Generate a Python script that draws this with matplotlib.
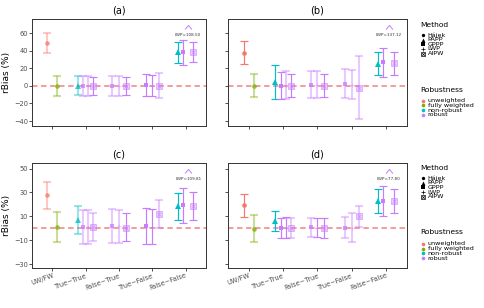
import numpy as np
import matplotlib
matplotlib.use("Agg")
import matplotlib.pyplot as plt
from matplotlib.lines import Line2D
from matplotlib.path import Path
import matplotlib.transforms as mtransforms

# categories on the x axis
categories = ["UW/FW", "True~True", "False~True", "True~False", "False~False"]

# one entry per estimate (same layout in every panel)
cat_idx = [0, 0, 1, 1, 1, 1, 2, 2, 2, 3, 3, 3, 4, 4, 4, 4]
methods = ["Hajek", "Hajek", "PAPP", "GPPP", "LWP", "AIPW",
           "GPPP", "LWP", "AIPW", "GPPP", "LWP", "AIPW",
           "PAPP", "GPPP", "LWP", "AIPW"]
robust = ["unweighted", "fully weighted", "non-robust", "robust", "robust", "robust",
          "robust", "robust", "robust", "robust", "robust", "robust",
          "non-robust", "robust", "robust", "robust"]

# panel (a)
est_a = [49.0, 0.0, 0.0, 0.0, 0.0, 0.0, 0.0, 0.0, 0.0, 0.8, 0.3, 0.0, 38.6, 38.6, 108.50, 38.6]
lo_a = [37.9, -12.0, -10.9, -12.0, -11.6, -10.9, -12.0, -11.6, -10.9, -12.0, -12.0, -13.5, 26.2, 23.6, np.nan, 26.6]
hi_a = [60.4, 11.6, 10.9, 11.6, 11.6, 10.5, 11.6, 11.6, 10.5, 13.1, 12.4, 14.6, 49.9, 52.5, np.nan, 49.9]
light_a = [1, 1, 1, 1, 1, 0, 1, 1, 0, 0, 0, 1, 0, 0, 0, 0]

# panel (b)
est_b = [37.7, 0.0, 4.2, 0.4, 0.4, 0.0, 1.1, 1.1, 0.0, 2.3, 1.0, -1.9, 25.3, 26.8, 137.12, 26.0]
lo_b = [24.5, -13.2, -15.1, -15.1, -15.1, -12.5, -14.0, -14.0, -12.5, -13.6, -15.1, -37.4, 12.1, 9.8, np.nan, 12.1]
hi_b = [50.6, 14.0, 23.4, 15.8, 16.6, 13.2, 16.6, 16.6, 13.2, 18.9, 17.7, 33.6, 38.1, 42.6, np.nan, 38.9]
light_b = [0, 1, 0, 0, 1, 0, 1, 1, 0, 1, 1, 1, 0, 0, 0, 0]

# panel (c)
est_c = [27.9, 0.8, 6.7, 1.1, 1.0, 1.1, 1.9, 1.5, 0.6, 2.2, 1.3, 12.0, 18.4, 19.8, 109.81, 18.9]
lo_c = [16.2, -11.7, -5.0, -13.4, -13.6, -10.9, -12.3, -12.3, -10.6, -12.8, -13.6, 0.0, 7.0, 4.7, np.nan, 7.2]
hi_c = [38.7, 13.4, 18.9, 15.3, 15.3, 13.1, 16.2, 15.3, 12.8, 17.3, 16.2, 24.0, 29.5, 33.7, np.nan, 30.1]
light_c = [1, 1, 1, 1, 1, 1, 1, 1, 0, 0, 0, 1, 0, 0, 0, 0]

# panel (d)
est_d = [19.5, -0.3, 6.4, 0.6, 0.5, 0.3, 0.8, 0.6, 0.3, 0.6, 0.5, 10.3, 22.8, 23.1, 77.80, 22.8]
lo_d = [9.7, -11.4, -1.9, -7.8, -8.4, -8.4, -7.5, -7.5, -8.4, -8.4, -11.7, 0.8, 12.5, 10.6, np.nan, 12.8]
hi_d = [29.0, 11.4, 14.8, 8.9, 9.5, 8.6, 8.6, 8.6, 8.6, 9.7, 12.8, 18.9, 32.9, 35.7, np.nan, 32.6]
light_d = [0, 1, 0, 0, 0, 1, 1, 0, 0, 1, 1, 1, 0, 0, 0, 0]

panel_titles = ["(a)", "(b)", "(c)", "(d)"]
method_names = ["Hajek", "PAPP", "GPPP", "LWP", "AIPW"]
method_labels = ["Hájek", "PAPP", "GPPP", "LWP", "AIPW"]
robust_names = ["unweighted", "fully weighted", "non-robust", "robust"]

colors = {"unweighted": "#F8766D", "fully weighted": "#7CAE00",
          "non-robust": "#00BFC4", "robust": "#C77CFF"}
markers = {"Hajek": "o", "PAPP": "^", "GPPP": "s", "LWP": "+", "AIPW": "s"}

# caret drawn as an open chevron marker
caret = Path([(-1, -0.6), (0, 0.6), (1, -0.6)], [Path.MOVETO, Path.LINETO, Path.LINETO])

W, H = 484, 308
fig = plt.figure(figsize=(W / 100, H / 100), dpi=100)


def px_axes(l, t, r, b):
    return fig.add_axes([l / W, 1 - b / H, (r - l) / W, (b - t) / H])


def dodge_positions():
    xs = []
    for i, c in enumerate(cat_idx):
        group = [j for j, cc in enumerate(cat_idx) if cc == c]
        n = len(group)
        k = group.index(i)
        xs.append(c + 1 + (k - (n - 1) / 2) * 0.6 / n)
    return xs


xpos = dodge_positions()

panels = [
    (est_a, lo_a, hi_a, light_a, (32.3, 19, 205.7, 126)),
    (est_b, lo_b, hi_b, light_b, (228.3, 19, 406.6, 126)),
    (est_c, lo_c, hi_c, light_c, (32.3, 163.3, 205.7, 268)),
    (est_d, lo_d, hi_d, light_d, (228.3, 163.3, 406.6, 268)),
]
ylims = [(-45.6, 76), (-45.6, 76), (-33.3, 54.4), (-33.3, 54.4)]
yticks = [np.arange(-40, 61, 20), np.arange(-40, 61, 20),
          np.arange(-30, 51, 20), np.arange(-30, 51, 20)]

for p, (est, lo, hi, light, box) in enumerate(panels):
    ax = px_axes(*box)
    ylo, yhi = ylims[p]
    ax.axhline(0, color="#EE3B3B", lw=1.3, ls=(0, (3, 2)), alpha=0.55, zorder=1)
    for i in range(len(est)):
        col = colors[robust[i]]
        m = methods[i]
        a = 0.4 if light[i] else 1.0
        lw = 1.5 if light[i] else 0.85
        if est[i] > yhi:
            # off the scale: mark with a caret and a label
            trans = mtransforms.blended_transform_factory(ax.transData, ax.transAxes)
            ax.plot(xpos[i], 0.925, marker=caret, ms=5, mfc="none", mec=col,
                    mew=0.7, transform=trans, clip_on=False)
            ax.text(xpos[i], 0.85, "%s=%.2f" % (m, est[i]), transform=trans,
                    color="#333333", fontsize=3.0, ha="center", va="center")
            continue
        ax.errorbar(xpos[i], est[i], yerr=[[est[i] - lo[i]], [hi[i] - est[i]]],
                    fmt="none", ecolor=col, elinewidth=lw, capsize=2.6,
                    capthick=lw, alpha=a, zorder=2)
        if m == "AIPW":
            ax.plot(xpos[i], est[i], marker="s", ms=3.8, mfc=col, mec="none",
                    alpha=0.35, zorder=3)
            ax.plot(xpos[i], est[i], marker="s", ms=3.8, mfc="none", mec=col,
                    mew=0.6, alpha=0.6, zorder=3)
            ax.plot(xpos[i], est[i], marker="x", ms=2.6, mec=col, mew=0.5,
                    alpha=0.6, zorder=3)
        elif m == "LWP":
            ax.plot(xpos[i], est[i], marker="+", ms=3.0, mec=col, mew=0.6,
                    alpha=a, zorder=3)
        else:
            ms = 3.3 if m != "PAPP" else 3.7
            ax.plot(xpos[i], est[i], marker=markers[m], ms=ms, mfc=col, mec=col,
                    mew=0, alpha=max(a, 0.75), zorder=3)
    ax.set_xlim(0.4, 5.6)
    ax.set_ylim(ylo, yhi)
    ax.set_yticks(yticks[p])
    ax.set_xticks(range(1, 6))
    ax.tick_params(axis="both", colors="#333333", labelcolor="#4D4D4D",
                   labelsize=4.8, length=2, width=0.6, pad=1.2)
    for s in ax.spines.values():
        s.set_color("#333333")
        s.set_linewidth(0.7)
    if p in (2, 3):
        ax.set_xticklabels(categories, rotation=20, ha="right",
                           rotation_mode="anchor")
    else:
        ax.set_xticklabels([])
    if p in (1, 3):
        ax.set_yticklabels([])
    else:
        ax.set_ylabel("rBias (%)", fontsize=6.5, labelpad=2)
    ax.set_title(panel_titles[p], fontsize=7, pad=4)


def draw_legend(dy):
    def fx(x):
        return x / W

    def fy(y):
        return 1 - (y + dy) / H

    fig.text(fx(420.5), fy(25), "Method", fontsize=5.4, va="center", ha="left")
    ys = [35, 39.6, 44.3, 49, 53.7]
    for name, lab, y in zip(method_names, method_labels, ys):
        if name == "AIPW":
            fig.add_artist(Line2D([fx(422.5)], [fy(y)], marker="s", ms=2.6, mfc="none",
                                  mec="black", mew=0.5, transform=fig.transFigure))
            fig.add_artist(Line2D([fx(422.5)], [fy(y)], marker="x", ms=1.9,
                                  mec="black", mew=0.5, transform=fig.transFigure))
        elif name == "LWP":
            fig.add_artist(Line2D([fx(422.5)], [fy(y)], marker="+", ms=3.0,
                                  mec="black", mew=0.5, transform=fig.transFigure))
        else:
            ms = 2.4 if name != "PAPP" else 2.8
            fig.add_artist(Line2D([fx(422.5)], [fy(y)], marker=markers[name], ms=ms,
                                  mfc="black", mec="black", mew=0,
                                  transform=fig.transFigure))
        fig.text(fx(427.5), fy(y), lab, fontsize=4.6, va="center", ha="left")

    fig.text(fx(420.5), fy(89.5), "Robustness", fontsize=5.4, va="center", ha="left")
    ys = [100.7, 105.5, 110.3, 115]
    for name, y in zip(robust_names, ys):
        fig.add_artist(Line2D([fx(422.5)], [fy(y)], marker="o", ms=2.6,
                              mfc=colors[name], mec=colors[name], mew=0,
                              transform=fig.transFigure))
        fig.text(fx(427.5), fy(y), name, fontsize=4.6, va="center", ha="left")


draw_legend(0)
draw_legend(143)

fig.savefig("out.png", dpi=100)
